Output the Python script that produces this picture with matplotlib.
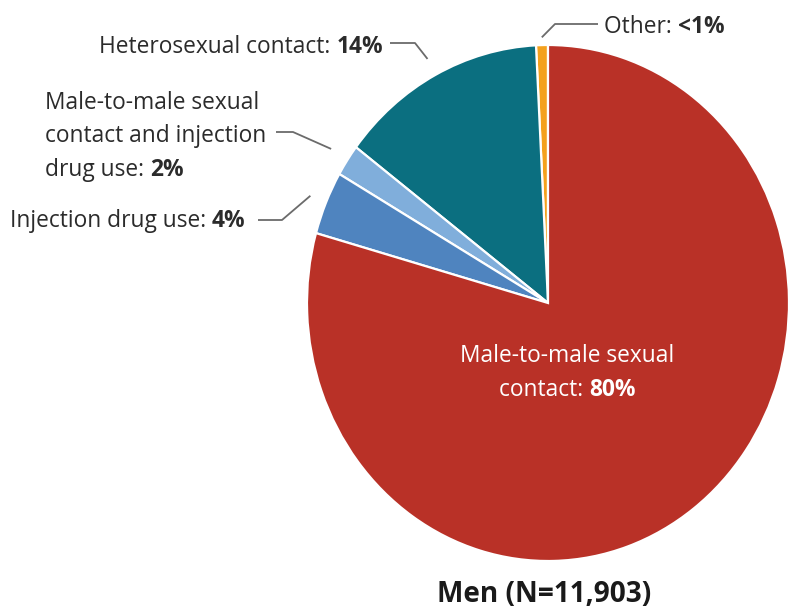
import matplotlib
matplotlib.use("Agg")
import matplotlib.pyplot as plt
import numpy as np
from matplotlib.transforms import IdentityTransform

# ---- data ----
categories = ["Other", "Heterosexual contact", "Male-to-male sexual contact and injection drug use",
              "Injection drug use", "Male-to-male sexual contact"]
values = [0.8, 14, 2, 4, 80]
value_labels = ["<1%", "14%", "2%", "4%", "80%"]
colors = ["#F4A11D", "#0B6F80", "#80AEDB", "#4F84BF", "#B93127"]
title = "Men (N=11,903)"

W, H = 788, 608
FONT = "Open Sans"
FS = 16.4
TXT = "#2b2b2b"

fig = plt.figure(figsize=(W / 100, H / 100), dpi=100)
ax = fig.add_axes([0, 0, 1, 1])

# pixel geometry of the (slightly stretched) pie
cx, cy, rx, ry = 548, 303, 241, 258

def px2data(px, py):
    return (px - cx) / rx, (cy - py) / ry

wedges, _ = ax.pie(values, colors=colors, startangle=90, counterclock=True,
                   wedgeprops=dict(edgecolor="white", linewidth=1.6))
ax.set_aspect("auto")
ax.set_xlim(px2data(0, 0)[0], px2data(W, 0)[0])
ax.set_ylim(px2data(0, H)[1], px2data(0, 0)[1])
ax.axis("off")

fig.canvas.draw()
renderer = fig.canvas.get_renderer()

def mixed(x_px, y_px, parts, ha="left", color=TXT, fs=FS):
    """parts: list of (text, weight). y_px = vertical center from top."""
    widths = []
    for s, w in parts:
        t = fig.text(0, 0, s, fontsize=fs, family=FONT, weight=w)
        widths.append(t.get_window_extent(renderer).width)
        t.remove()
    total = sum(widths)
    if ha == "left":
        x0 = x_px
    elif ha == "right":
        x0 = x_px - total
    else:
        x0 = x_px - total / 2
    for (s, w), wd in zip(parts, widths):
        fig.text(x0, H - y_px, s, fontsize=fs, family=FONT, weight=w, color=color,
                 transform=IdentityTransform(), ha="left", va="center_baseline")
        x0 += wd

def mid_angle(i):
    return np.deg2rad((wedges[i].theta1 + wedges[i].theta2) / 2)

def leader(i, r, knee_px, start_px):
    a = mid_angle(i)
    ex, ey = r * np.cos(a), r * np.sin(a)
    kx, ky = px2data(*knee_px)
    sx, sy = px2data(*start_px)
    ax.plot([sx, kx, ex], [sy, ky, ey], color="#6b6b6b", lw=1.3, solid_capstyle="butt")

# Other
mixed(604, 24, [("Other: ", "normal"), (value_labels[0], "bold")], ha="left")
leader(0, 1.03, (555, 24), (598, 24))

# Heterosexual
mixed(383, 44, [("Heterosexual contact: ", "normal"), (value_labels[1], "bold")], ha="right")
leader(1, 1.07, (415, 43), (390, 43))

# MMSC + IDU
mixed(45, 100, [("Male-to-male sexual", "normal")])
mixed(45, 133, [("contact and injection", "normal")])
mixed(45, 167, [("drug use: ", "normal"), (value_labels[2], "bold")])
leader(2, 1.08, (293, 132), (276, 132))

# IDU
mixed(10, 218, [("Injection drug use: ", "normal"), (value_labels[3], "bold")])
leader(3, 1.07, (282, 220), (258, 220))

# MMSC inside
mixed(567, 353, [("Male-to-male sexual", "normal")], ha="center", color="white")
mixed(567, 387, [("contact: ", "normal"), (value_labels[4], "bold")], ha="center", color="white")

# title
mixed(544, 591, [(title, "bold")], ha="center", color="#1a1a1a", fs=20.2)

fig.savefig("out.png", dpi=100)
